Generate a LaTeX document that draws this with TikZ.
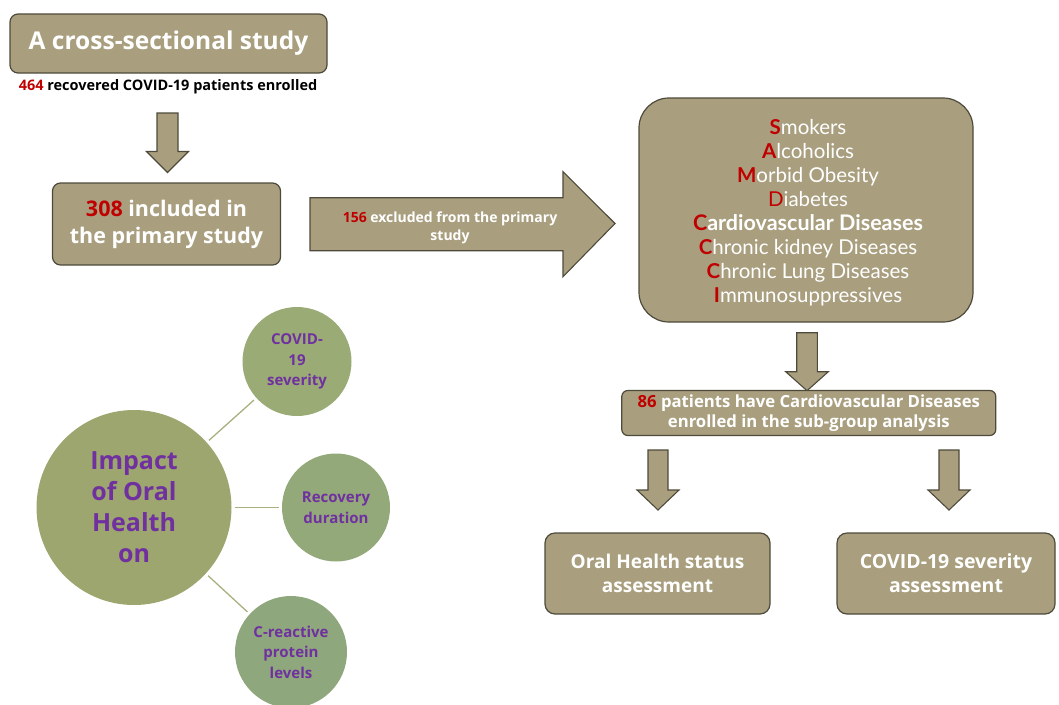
\documentclass[tikz,border=0pt]{standalone}
\usepackage{fontspec}
\setmainfont{Open Sans}
\newfontfamily\listfont{Lato}
\usetikzlibrary{positioning}
\definecolor{boxfill}{HTML}{A99F7F}
\definecolor{boxdraw}{HTML}{4E4A3B}
\definecolor{dred}{HTML}{C00000}
\definecolor{purp}{HTML}{7030A0}
\definecolor{bigc}{HTML}{9CA66E}
\definecolor{c1}{HTML}{9AAB76}
\definecolor{c2}{HTML}{93A97A}
\definecolor{c3}{HTML}{8EA77C}
\definecolor{linec}{HTML}{A8B080}
\newcommand{\rd}[1]{\textcolor{dred}{#1}}
\begin{document}
\begin{tikzpicture}[x=1pt,y=-1pt,
  tbox/.style={draw=boxdraw,line width=1.2pt,fill=boxfill,rounded corners=8pt,text=white,align=center,inner sep=0pt,font=\bfseries},
  barrow/.style={draw=boxdraw,line width=1.1pt,fill=boxfill,line join=miter},
  circ/.style={circle,inner sep=0pt,text=purp,align=center,font=\bfseries},
  link/.style={draw=linec,line width=1.3pt}]
\useasboundingbox (0,0) rectangle (1059,704);
% top box
\node[tbox,minimum width=317pt,minimum height=59pt,font=\bfseries\fontsize{24.5}{28}\selectfont] (study) at (168.5,43.5) {A cross-sectional study};
\node[font=\bfseries\fontsize{14.5}{16}\selectfont,inner sep=0pt] (enrol) at (168,87) {\rd{464} recovered COVID-19 patients enrolled};
% arrow 1
\draw[barrow] (157,113) -- (178,113) -- (178,151.5) -- (188.5,151.5) -- (167.5,172.5) -- (146.5,151.5) -- (157,151.5) -- cycle;
% 308 box
\node[tbox,minimum width=228pt,minimum height=82pt,font=\bfseries\fontsize{21.5}{27}\selectfont] (incl) at (166.5,224) {\rd{308} included in\\the primary study};
% right arrow
\draw[barrow] (310,197.7) -- (563,197.7) -- (563,171.7) -- (615,223.5) -- (563,276.7) -- (563,250.7) -- (310,250.7) -- cycle;
\node[text=white,align=center,inner sep=0pt,font=\bfseries\fontsize{14}{18}\selectfont] (excl) at (450,228) {\rd{156} excluded from the primary\\study};
% big box
\node[tbox,rounded corners=30pt,minimum width=334pt,minimum height=224pt] (list) at (806,210) {};
\node[text=white,align=center,inner sep=0pt,font=\listfont\fontsize{20.5}{24}\selectfont] (listtxt) at (808,213)
{\rd{\textbf{S}}mokers\\
 \rd{\textbf{A}}lcoholics\\
 \rd{\textbf{M}}orbid Obesity\\
 \rd{D}iabetes\\
 {\fontsize{21.5}{24}\selectfont\textbf{\rd{C}ardiovascular Diseases}}\\
 \rd{\textbf{C}}hronic kidney Diseases\\
 \rd{\textbf{C}}hronic Lung Diseases\\
 \rd{\textbf{I}}mmunosuppressives};
% arrow 2
\draw[barrow] (796.7,332.7) -- (817.3,332.7) -- (817.3,371.7) -- (828.3,371.7) -- (807,390.7) -- (785.7,371.7) -- (796.7,371.7) -- cycle;
% 86 box
\node[tbox,rounded corners=6pt,minimum width=374pt,minimum height=45pt,font=\bfseries\fontsize{16.7}{20}\selectfont] (sub) at (808.8,413) {\rd{86} patients have Cardiovascular Diseases\\enrolled in the sub-group analysis};
% arrows 3,4
\draw[barrow] (648,450) -- (668,450) -- (668,490) -- (679,490) -- (658,510) -- (637,490) -- (648,490) -- cycle;
\draw[barrow] (939,450) -- (959,450) -- (959,490) -- (970,490) -- (949,510) -- (928,490) -- (939,490) -- cycle;
% bottom boxes
\node[tbox,rounded corners=10pt,minimum width=225pt,minimum height=81pt,font=\bfseries\fontsize{19}{24}\selectfont] (oral) at (657.5,573.5) {Oral Health status\\assessment};
\node[tbox,rounded corners=10pt,minimum width=218pt,minimum height=81pt,font=\bfseries\fontsize{19.5}{24}\selectfont] (sev) at (946,573.5) {COVID-19 severity\\assessment};
% circles
\node[circ,fill=bigc,minimum size=195pt,font=\bfseries\fontsize{25}{31}\selectfont] (impact) at (134,507.5) {Impact\\of Oral\\Health\\on};
\node[circ,fill=c1,minimum size=109pt,font=\bfseries\fontsize{15}{20.5}\selectfont] (cs) at (297,361.5) {COVID-\\19\\severity};
\node[circ,fill=c2,minimum size=108pt,font=\bfseries\fontsize{15}{20.5}\selectfont] (rd) at (336,507.5) {Recovery\\duration};
\node[circ,fill=c3,minimum size=112pt,font=\bfseries\fontsize{15}{20.5}\selectfont] (crp) at (291,652) {C-reactive\\protein\\levels};
\path[link,shorten <=3pt,shorten >=3pt] (impact) -- (cs);
\path[link,shorten <=3pt,shorten >=3pt] (impact) -- (rd);
\path[link,shorten <=3pt,shorten >=3pt] (impact) -- (crp);
\end{tikzpicture}
\end{document}
